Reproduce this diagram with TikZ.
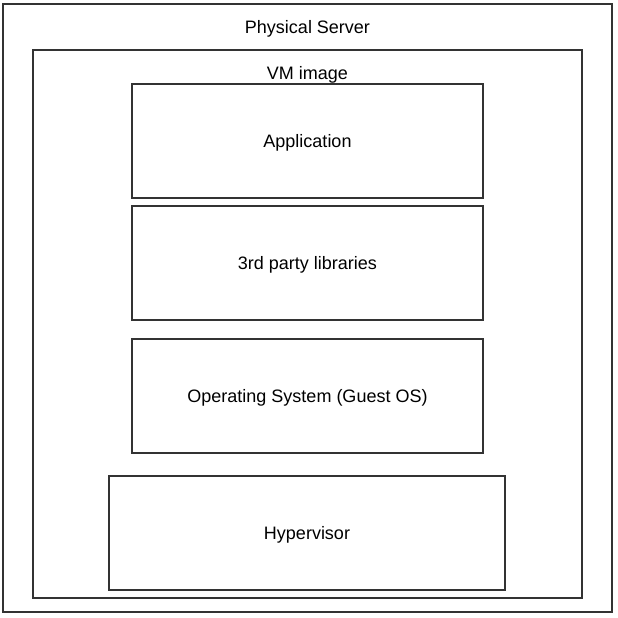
\documentclass[tikz,border=0pt]{standalone}
\usepackage{fontspec}
\setmainfont{Liberation Sans}
\usepackage{tikz}
\tikzset{box/.style={draw=black!80,line width=1.8pt,inner sep=0pt,text depth=0pt,font=\fontsize{18}{22}\selectfont}}
\tikzset{layer/.style={box,minimum width=351pt,minimum height=114pt}}

\begin{document}
\begin{tikzpicture}[yscale=-1]
			\useasboundingbox[fill=white] (0pt,0pt) rectangle (618pt,618pt);
			\node[box,minimum width=609pt,minimum height=608pt] (server) at (307.5pt,308pt) {};
			\node[text depth=0pt,font=\fontsize{18}{22}\selectfont] (serverlabel) at (307.5pt,27pt) {Physical Server};
			\node[box,minimum width=549pt,minimum height=548pt] (vm) at (307.5pt,324pt) {};
			\node[text depth=0pt,font=\fontsize{18}{22}\selectfont] (vmlabel) at (307.5pt,73pt) {VM image};
			\node[layer] (app) at (307.5pt,141pt) {Application};
			\node[layer] (libs) at (307.5pt,263pt) {3rd party libraries};
			\node[layer] (os) at (307.5pt,396pt) {Operating System (Guest OS)};
			\node[box,minimum width=396pt,minimum height=114pt] (hyp) at (307pt,533pt) {Hypervisor};
		\end{tikzpicture}
\end{document}
